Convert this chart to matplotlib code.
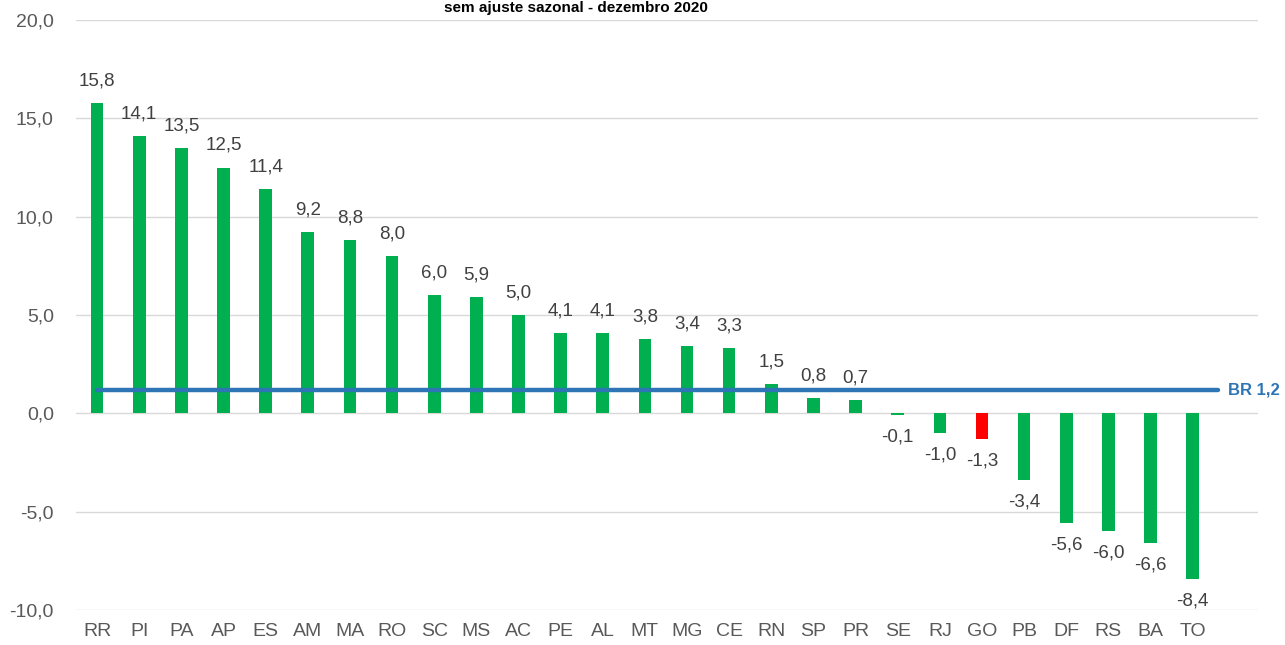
import numpy as np
import matplotlib.pyplot as plt

# dados
estados = ['RR', 'PI', 'PA', 'AP', 'ES', 'AM', 'MA', 'RO', 'SC', 'MS', 'AC', 'PE', 'AL', 'MT',
           'MG', 'CE', 'RN', 'SP', 'PR', 'SE', 'RJ', 'GO', 'PB', 'DF', 'RS', 'BA', 'TO']
valores = [15.8, 14.1, 13.5, 12.5, 11.4, 9.2, 8.8, 8.0, 6.0, 5.9, 5.0, 4.1, 4.1, 3.8,
           3.4, 3.3, 1.5, 0.8, 0.7, -0.1, -1.0, -1.3, -3.4, -5.6, -6.0, -6.6, -8.4]
destaque = 'GO'
br_valor = 1.2
titulo = 'sem ajuste sazonal - dezembro 2020'

verde = '#00B050'
vermelho = '#FF0000'
azul = '#2E75B6'
cinza_txt = '#404040'

plt.rcParams['font.family'] = ['Liberation Sans', 'DejaVu Sans']

fig = plt.figure(figsize=(12.85, 6.45), dpi=100)
ax = fig.add_axes([76 / 1285, 1 - 610 / 645, (1258 - 76) / 1285, 590 / 645])

x = np.arange(len(estados))
cores = [vermelho if e == destaque else verde for e in estados]
ax.bar(x, valores, width=0.3, color=cores, zorder=2)

# rótulos dos dados
for xi, v in zip(x, valores):
    off = 22 if v >= 0 else -22
    ax.annotate(f'{v:.1f}'.replace('.', ','), (xi, v), xytext=(0, off),
                textcoords='offset pixels', ha='center', va='center',
                fontsize=13.5, color=cinza_txt)

# linha do Brasil
ax.plot([0, len(estados) - 0.4], [br_valor, br_valor], color=azul, lw=3.2,
        solid_capstyle='round', zorder=3)
ax.annotate(f'BR {br_valor:.1f}'.replace('.', ','), (len(estados) - 0.4, br_valor),
            xytext=(10, 0), textcoords='offset pixels', ha='left', va='center',
            fontsize=12, fontweight='bold', color=azul, annotation_clip=False)

ax.set_xlim(-0.5, 27.55)
ax.set_ylim(-10, 20)
ax.set_yticks(np.arange(-10, 21, 5))
ax.set_yticklabels([f'{t:.1f}'.replace('.', ',') for t in np.arange(-10, 21, 5)])
ax.set_xticks(x)
ax.set_xticklabels(estados)
ax.tick_params(axis='both', length=0, labelsize=14, colors='#595959')
ax.tick_params(axis='y', pad=16)
ax.tick_params(axis='x', pad=9)
ax.grid(axis='y', color='#D9D9D9', lw=1, zorder=0)
for s in ax.spines.values():
    s.set_visible(False)

fig.text(576 / 1285, 1 - 1 / 645, titulo, ha='center', va='top',
         fontsize=11, fontweight='bold', color='black')

fig.savefig('out.png', dpi=100)
